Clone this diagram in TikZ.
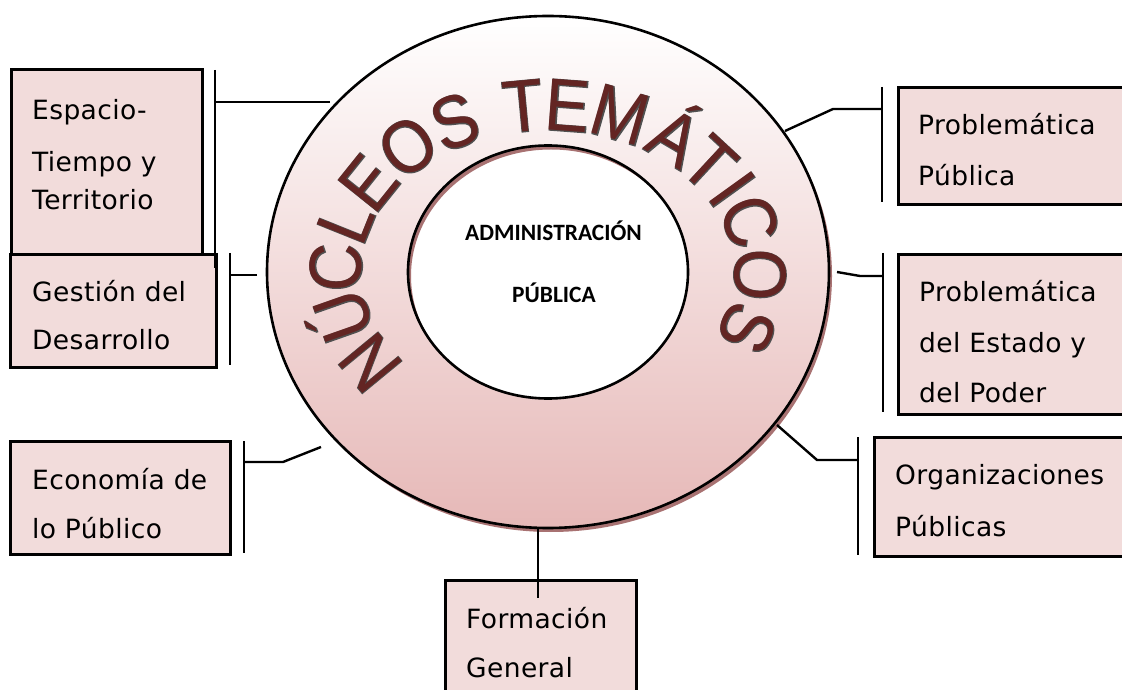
\documentclass[tikz,border=0pt]{standalone}
\usepackage{fontspec}
\setmainfont{DejaVu Sans}
\newfontfamily\boxfont[LetterSpace=1.5]{DejaVu Sans}
\newfontfamily\arcfont{Liberation Sans}
\newfontfamily\arcfontrim[FakeBold=2]{Liberation Sans}
\newfontfamily\hubfont{Carlito}
\usetikzlibrary{shapes.geometric}
\definecolor{boxpink}{HTML}{F2DCDB}
\definecolor{ringpink}{HTML}{E6B8B7}
\definecolor{arcred}{HTML}{632523}
\definecolor{arcrim}{HTML}{505050}
\definecolor{shadowred}{HTML}{A87272}
\begin{document}
\begin{tikzpicture}[x=1pt,y=1pt,
  boxnode/.style={draw=black, line width=2.6pt, fill=boxpink, rectangle, inner sep=0pt, anchor=north west},
  boxtext/.style={font=\boxfont\fontsize{26.5}{31}\selectfont, anchor=base west, inner sep=0pt, text=black},
  hubtext/.style={font=\hubfont\bfseries\fontsize{23.4}{28}\selectfont, anchor=base, inner sep=0pt},
  arcletter/.style={font=\arcfont\fontsize{74}{80}\selectfont, text=arcred, inner sep=0pt, anchor=base},
  arcrimletter/.style={font=\arcfontrim\fontsize{74}{80}\selectfont, text=arcrim, inner sep=0pt, anchor=base},
  link/.style={line width=2.4pt, line join=miter},
  ringline/.style={line width=2.6pt}]
\useasboundingbox (0,0) rectangle (1122,689);

% ring anchors
\node[ellipse, minimum width=562pt, minimum height=512pt, inner sep=0pt] (ring) at (548,417) {};
\node[ellipse, minimum width=280pt, minimum height=253pt, inner sep=0pt] (hub) at (548,417) {};

% shadow of the ring
\fill[shadowred, even odd rule] (551,413) ellipse [x radius=281, y radius=256]
                                (551,413) ellipse [x radius=140, y radius=126.5];
% ring body
\shade[top color=white, bottom color=ringpink, even odd rule]
  (548,417) ellipse [x radius=281, y radius=256]
  (548,417) ellipse [x radius=140, y radius=126.5];
\draw[ringline] (548,417) ellipse [x radius=281, y radius=256];
\draw[ringline] (548,417) ellipse [x radius=140, y radius=126.5];

% arc title
\foreach \ch/\t [count=\i] in {N/213, Ú/195.5, C/178.5, L/162.4, E/147.7, O/131.4, S/116,
                               T/96.8, E/84.6, M/70, Á/53.3, T/40.4, I/29.6, C/17.6, O/-1, S/-19.8}{
  \pgfmathsetmacro\ph{atan2(213*sin(\t),168*cos(\t))}
  \pgfmathsetmacro\bx{548+213*cos(\t)-26.5*cos(\ph)}
  \pgfmathsetmacro\by{417+168*sin(\t)-26.5*sin(\ph)}
  \node[arcrimletter, rotate=\ph-90, xscale=0.9] (G\i) at (\bx,\by) {\ch};
  \node[arcletter, rotate=\ph-90, xscale=0.9] (L\i) at (\bx,\by) {\ch};
}

% centre text
\node[hubtext] (hubA) at (553.5,448) {ADMINISTRACIÓN};
\node[hubtext] (hubB) at (554,386) {PÚBLICA};

% boxes
\node[boxnode, minimum width=191pt, minimum height=185pt] (b1) at (10,621) {};
\node[boxnode, minimum width=206pt, minimum height=113pt] (b2) at (9,436) {};
\node[boxnode, minimum width=220pt, minimum height=113pt] (b6) at (9,249) {};
\node[boxnode, minimum width=232pt, minimum height=117pt] (b3) at (897,603) {};
\node[boxnode, minimum width=232pt, minimum height=160pt] (b4) at (897,436) {};
\node[boxnode, minimum width=256pt, minimum height=119pt] (b5) at (873,253) {};
\node[boxnode, minimum width=191pt, minimum height=120pt] (b7) at (444,110) {};

% box texts
\node[boxtext] (t1a) at (32,569) {Espacio-};
\node[boxtext] (t1b) at (32,517) {Tiempo y};
\node[boxtext] (t1c) at (32,479) {Territorio};
\node[boxtext] (t2a) at (32,387) {Gestión del};
\node[boxtext] (t2b) at (32,339) {Desarrollo};
\node[boxtext] (t6a) at (32,200) {Economía de};
\node[boxtext] (t6b) at (32,151) {lo Público};
\node[boxtext] (t3a) at (918,554) {Problemática};
\node[boxtext] (t3b) at (918,503) {Pública};
\node[boxtext] (t4a) at (919,387) {Problemática};
\node[boxtext] (t4b) at (919,336) {del Estado y};
\node[boxtext] (t4c) at (919,286) {del Poder};
\node[boxtext] (t5a) at (895,205) {Organizaciones};
\node[boxtext] (t5b) at (895,153) {Públicas};
\node[boxtext] (t7a) at (466,61) {Formación};
\node[boxtext] (t7b) at (466,12) {General};

% bracket and connector coordinates
\coordinate (k1t) at (215,619); \coordinate (k1b) at (215,421); \coordinate (k1m) at (215,587); \coordinate (r1) at (330,587);
\coordinate (k2t) at (230,436); \coordinate (k2b) at (230,324); \coordinate (k2m) at (230,414); \coordinate (r2) at (257,414);
\coordinate (k3t) at (882,602); \coordinate (k3b) at (882,487); \coordinate (k3m) at (882,580); \coordinate (e3) at (833,580); \coordinate (r3) at (785,558);
\coordinate (k4t) at (883,436); \coordinate (k4b) at (883,277); \coordinate (k4m) at (883,413); \coordinate (e4) at (860,413); \coordinate (r4) at (837,417);
\coordinate (k5t) at (858,252); \coordinate (k5b) at (858,134); \coordinate (k5m) at (858,229); \coordinate (e5) at (817,229); \coordinate (r5) at (777,264);
\coordinate (k6t) at (244,248); \coordinate (k6b) at (244,136); \coordinate (k6m) at (244,227); \coordinate (e6) at (283,227); \coordinate (r6) at (321,242);
\coordinate (r7) at (538,161); \coordinate (k7) at (538,91);

\draw[link] (k1t) -- (k1b);  \draw[link] (r1) -- (k1m);
\draw[link] (k2t) -- (k2b);  \draw[link] (r2) -- (k2m);
\draw[link] (k3t) -- (k3b);  \draw[link] (r3) -- (e3) -- (k3m);
\draw[link] (k4t) -- (k4b);  \draw[link] (r4) -- (e4) -- (k4m);
\draw[link] (k5t) -- (k5b);  \draw[link] (r5) -- (e5) -- (k5m);
\draw[link] (k6t) -- (k6b);  \draw[link] (r6) -- (e6) -- (k6m);
\draw[link] (r7) -- (k7);
\end{tikzpicture}
\end{document}
